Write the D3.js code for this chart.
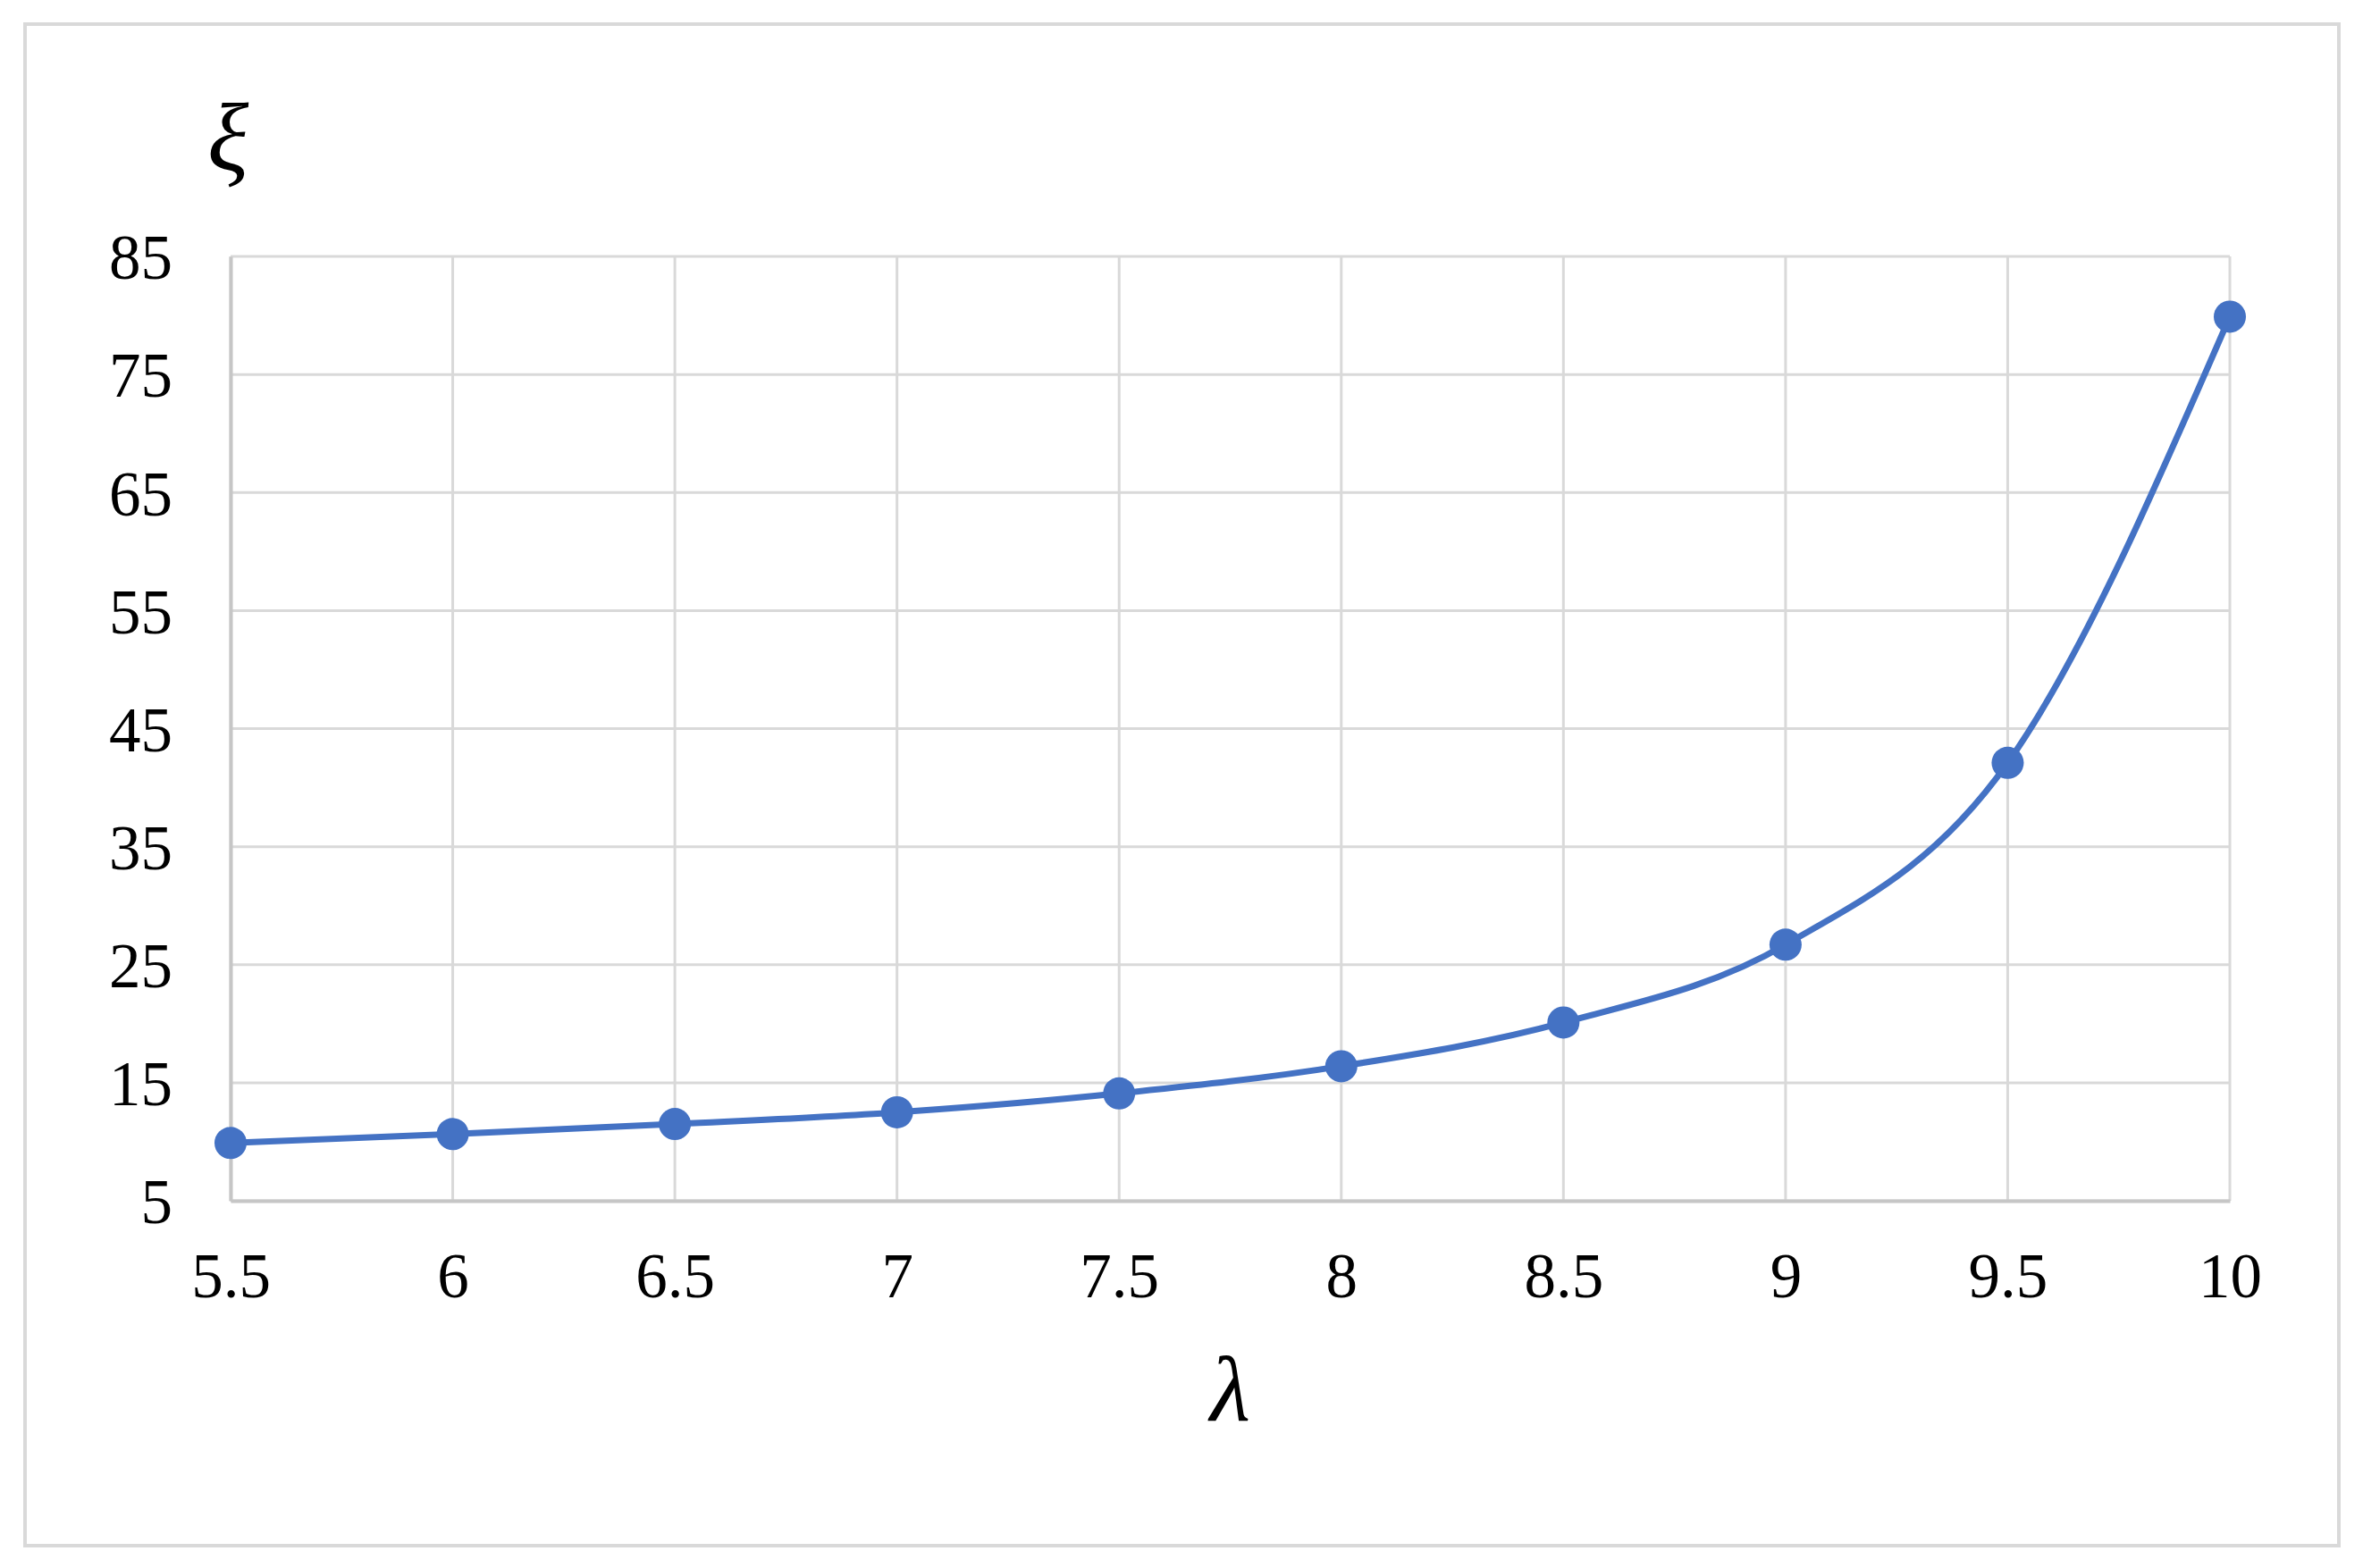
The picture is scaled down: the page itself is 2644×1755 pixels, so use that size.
<!DOCTYPE html>
<html>
<head>
<meta charset="utf-8">
<script src="https://cdnjs.cloudflare.com/ajax/libs/d3/7.8.5/d3.min.js"></script>
<style>
  body { margin: 0; background: #ffffff; }
  svg { display: block; }
</style>
</head>
<body>
<svg id="chart" width="2644" height="1755"></svg>
<script>
// lambda values and xi
var lambdaValues = [5.5, 6, 6.5, 7, 7.5, 8, 8.5, 9, 9.5, 10];
var xiValues = [9.9, 10.65, 11.5, 12.5, 14.1, 16.4, 20.1, 26.7, 42.1, 79.9];
var xTicks = [5.5, 6, 6.5, 7, 7.5, 8, 8.5, 9, 9.5, 10];
var yTicks = [5, 15, 25, 35, 45, 55, 65, 75, 85];
var xTitle = "λ";
var yTitle = "ξ";

class xiChart {
  constructor() {
    this.renderingArea = {x: 0, y: 0, width: 2644, height: 1755};
    this.margins = {left: 258, right: 149, top: 287, bottom: 411};
    this.width = this.renderingArea.width - this.margins.left - this.margins.right;
    this.height = this.renderingArea.height - this.margins.top - this.margins.bottom;
    this.svg = d3.select("#chart");
    // outer frame
    this.svg.append("rect")
      .attr("x", 28).attr("y", 27)
      .attr("width", 2589).attr("height", 1703)
      .attr("fill", "none")
      .attr("stroke", "#d9d9d9")
      .attr("stroke-width", 4);
    this.canvas = this.svg.append("g")
      .attr("transform", "translate(" + this.margins.left + "," + this.margins.top + ")");
  }

  update() {
    var plot = this;
    this.x = d3.scaleLinear().domain([5.5, 10]).range([0, this.width]);
    this.y = d3.scaleLinear().domain([5, 85]).range([this.height, 0]);

    // grid
    this.canvas.append("g").selectAll("line").data(yTicks).enter()
      .append("line")
      .attr("x1", 0).attr("x2", this.width)
      .attr("y1", function(d){ return plot.y(d); })
      .attr("y2", function(d){ return plot.y(d); })
      .attr("stroke", "#d9d9d9").attr("stroke-width", 3);
    this.canvas.append("g").selectAll("line").data(xTicks).enter()
      .append("line")
      .attr("y1", 0).attr("y2", this.height)
      .attr("x1", function(d){ return plot.x(d); })
      .attr("x2", function(d){ return plot.x(d); })
      .attr("stroke", "#d9d9d9").attr("stroke-width", 3);

    // axes
    var xAxis = d3.axisBottom(this.x).tickValues(xTicks).tickSize(0).tickPadding(58)
      .tickFormat(function(d){ return String(d); });
    this.canvas.append("g")
      .attr("class", "xAxis")
      .attr("transform", "translate(0," + this.height + ")")
      .call(xAxis);
    var yAxis = d3.axisLeft(this.y).tickValues(yTicks).tickSize(0).tickPadding(65);
    this.canvas.append("g")
      .attr("class", "yAxis")
      .call(yAxis);
    this.canvas.selectAll(".xAxis .domain, .yAxis .domain")
      .attr("stroke", "#c6c6c6").attr("stroke-width", 4);
    this.canvas.selectAll(".tick text")
      .attr("fill", "#000")
      .style("font-family", "'Liberation Serif', 'Times New Roman', serif")
      .style("font-size", "71px");
    this.canvas.selectAll(".xAxis .tick text").attr("dy", "0.71em");
    this.canvas.selectAll(".yAxis .tick text").attr("dy", "0.35em");

    // line + markers
    var line = d3.line()
      .x(function(d){ return plot.x(d[0]); })
      .y(function(d){ return plot.y(d[1]); })
      .curve(d3.curveMonotoneX);
    var data = lambdaValues.map(function(d, i){ return [d, xiValues[i]]; });
    this.canvas.append("path")
      .datum(data)
      .attr("d", line)
      .attr("fill", "none")
      .attr("stroke", "#4472c4")
      .attr("stroke-width", 7);
    this.canvas.selectAll("circle").data(data).enter()
      .append("circle")
      .attr("cx", function(d){ return plot.x(d[0]); })
      .attr("cy", function(d){ return plot.y(d[1]); })
      .attr("r", 18)
      .attr("fill", "#4472c4");

    // titles
    this.svg.append("text")
      .attr("x", this.margins.left + this.width / 2)
      .attr("y", 1590)
      .attr("text-anchor", "middle")
      .style("font-family", "'Liberation Serif', 'Times New Roman', serif")
      .style("font-style", "italic")
      .style("font-size", "104px")
      .text(xTitle);
    this.svg.append("text")
      .attr("x", 255)
      .attr("y", 190)
      .attr("text-anchor", "middle")
      .style("font-family", "'Liberation Serif', 'Times New Roman', serif")
      .style("font-style", "italic")
      .style("font-size", "108px")
      .text(yTitle);
  }
}

var chart = new xiChart();
chart.update();
</script>
</body>
</html>
